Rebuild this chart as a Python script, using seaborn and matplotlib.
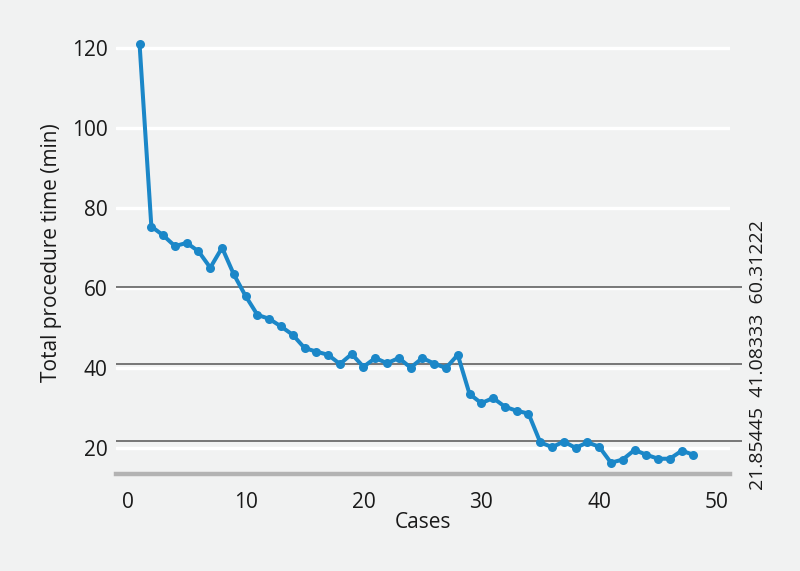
import numpy as np
import pandas as pd
import seaborn as sns
import matplotlib.pyplot as plt

# values
cases = list(range(1, 49))
times = [121.0, 75.4, 73.2, 70.5, 71.3, 69.2, 65.1, 70.1, 63.4, 58.0,
         53.3, 52.3, 50.4, 48.3, 45.0, 44.1, 43.3, 41.0, 43.5, 40.3,
         42.5, 41.2, 42.5, 40.1, 42.5, 41.1, 40.0, 43.3, 33.5, 31.2,
         32.5, 30.3, 29.3, 28.6, 21.4, 20.2, 21.6, 20.0, 21.4, 20.3,
         16.3, 17.1, 19.5, 18.3, 17.3, 17.3, 19.3, 18.3]
phase_means = [21.85445, 41.08333, 60.31222]
y_ticks = [20, 40, 60, 80, 100, 120]
x_ticks = [0, 10, 20, 30, 40, 50]

bg = "#f1f2f2"
blue = "#1b87c8"

sns.set_style("white", {"axes.facecolor": bg, "figure.facecolor": bg})
plt.rcParams["font.family"] = ["Open Sans", "DejaVu Sans"]

df = pd.DataFrame({"Cases": cases, "Time": times})

fig = plt.figure(figsize=(8, 5.71), dpi=100)
ax = fig.add_axes([0.145, 0.17, 0.7675, 0.7735])

for y in y_ticks:
    ax.axhline(y, color="white", lw=2.4, zorder=0)
ax.hlines(phase_means, -1, 52.1, color="#555555", lw=1.1, zorder=1, clip_on=False)

sns.lineplot(data=df, x="Cases", y="Time", color=blue, lw=2.9, marker="o",
             markersize=6.5, markeredgewidth=0, ax=ax, zorder=3)

ax.set_xlim(-1, 51.1)
ax.set_ylim(13.5, 124)
ax.set_xticks(x_ticks)
ax.set_yticks(y_ticks)
ax.tick_params(axis="both", length=0, labelsize=15, colors="#1a1a1a")
ax.tick_params(axis="y", pad=6)
ax.tick_params(axis="x", pad=13)

for s in ["top", "right", "left"]:
    ax.spines[s].set_visible(False)
ax.spines["bottom"].set_color("#b3b3b3")
ax.spines["bottom"].set_linewidth(3.2)

ax.set_xlabel("Cases", fontsize=15, labelpad=-1, color="#1a1a1a")
ax.set_ylabel("Total procedure time (min)", fontsize=15, labelpad=7, color="#1a1a1a")

fig.text(0.9475, 0.378, "21.85445  41.08333  60.31222", rotation=90,
         ha="center", va="center", fontsize=14, color="#1a1a1a")

fig.savefig("out.png", dpi=100, facecolor=bg)
